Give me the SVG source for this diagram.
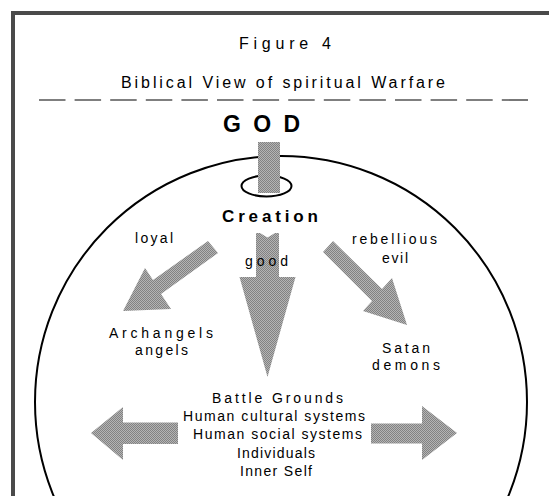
<svg xmlns="http://www.w3.org/2000/svg" width="549" height="496" viewBox="0 0 549 496">
<defs>
<pattern id="stip" patternUnits="userSpaceOnUse" width="2" height="2">
<rect width="2" height="2" fill="#b4b4b4"/>
<rect width="1" height="1" fill="#828282"/>
<rect x="1" y="1" width="1" height="1" fill="#828282"/>
</pattern>
</defs>
<style>
.t{font-family:"Liberation Sans",Arial,sans-serif;fill:#000;text-anchor:middle}
.s{font-size:14px}
.b{font-weight:bold}
.arrow{fill:url(#stip);stroke:none}
</style>
<rect width="549" height="496" fill="#fff"/>
<rect x="13" y="13" width="580" height="520" fill="none" stroke="#4a4a4a" stroke-width="4"/>
<g id="title">
<text class="t" x="285" y="49" font-size="16" fill="#222" textLength="92" lengthAdjust="spacing">Figure 4</text>
<text class="t" x="283" y="88" font-size="16" textLength="324" lengthAdjust="spacing">Biblical View of spiritual Warfare</text>
<line x1="39" y1="100" x2="528" y2="100" stroke="#555" stroke-width="1.6" stroke-dasharray="26.5 9.1"/>
</g>
<g id="world">
<circle cx="281" cy="402" r="246" fill="none" stroke="#000" stroke-width="2"/>
</g>
<g id="god">
<text class="t b" x="261.5" y="132" font-size="23" textLength="77" lengthAdjust="spacing">GOD</text>
</g>
<g id="ring">
<ellipse cx="266.5" cy="186" rx="25" ry="10.5" fill="none" stroke="#000" stroke-width="2"/>
</g>
<g id="connectors">
<rect class="arrow" x="258" y="142" width="22" height="51"/>
<polygon class="arrow" points="256,233 260,233 267.5,237.5 275,233 279,233 279,277 295.5,277 267.5,377 239.5,277 256,277"/>
<polygon class="arrow" points="208,241 153,280 145,268 123,311 171,309 161,294 218,253"/>
<polygon class="arrow" points="333,241 382,289 392,278 407,325 363,311 372,301 323,252"/>
<polygon class="arrow" points="91,433 123,407 123,422.5 178,422.5 178,444 123,444 123,460"/>
<polygon class="arrow" points="371,423.5 422,423.5 422,406 457,433 422,460 422,443.5 371,443.5"/>
</g>
<g id="creation">
<text class="t b" x="270" y="222" font-size="17" textLength="96" lengthAdjust="spacing">Creation</text>
</g>
<g id="label-loyal">
<text class="t s" x="154" y="243" textLength="38" lengthAdjust="spacing">loyal</text>
</g>
<g id="label-good">
<text class="t s" x="266.5" y="266" textLength="43" lengthAdjust="spacing">good</text>
</g>
<g id="label-rebellious">
<text class="t s" x="394.5" y="244" textLength="85" lengthAdjust="spacing">rebellious</text>
<text class="t s" x="395" y="263" textLength="26" lengthAdjust="spacing">evil</text>
</g>
<g id="angels">
<text class="t s" x="161" y="338" textLength="104" lengthAdjust="spacing">Archangels</text>
<text class="t s" x="161.5" y="355" textLength="53" lengthAdjust="spacing">angels</text>
</g>
<g id="satan">
<text class="t s" x="406" y="353" textLength="48" lengthAdjust="spacing">Satan</text>
<text class="t s" x="406" y="370" textLength="68" lengthAdjust="spacing">demons</text>
</g>
<g id="battle-grounds">
<text class="t s" x="277.5" y="403" textLength="131" lengthAdjust="spacing">Battle Grounds</text>
<text class="t s" x="274" y="421" textLength="182" lengthAdjust="spacing">Human cultural systems</text>
<text class="t s" x="277.5" y="439" textLength="169" lengthAdjust="spacing">Human social systems</text>
<text class="t s" x="276" y="458" textLength="78" lengthAdjust="spacing">Individuals</text>
<text class="t s" x="276" y="476" textLength="72" lengthAdjust="spacing">Inner Self</text>
</g>
</svg>
